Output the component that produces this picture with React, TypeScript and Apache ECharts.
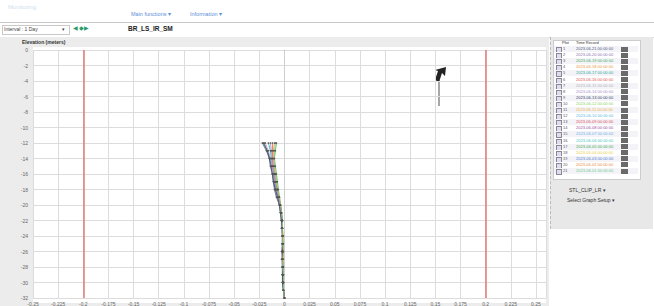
import React, { useEffect, useRef } from "react";
import * as echarts from "echarts";

const elevations = [-12, -13, -14, -15, -16, -17, -18, -19, -20, -21, -22, -23, -24, -25, -26, -27, -28, -29, -30, -31, -32];

const readingA = [-0.022, -0.018, -0.015, -0.013, -0.012, -0.011, -0.010, -0.008, -0.005, -0.004, -0.003, -0.003, -0.002, -0.002, -0.002, -0.002, -0.002, -0.002, -0.002, -0.001, 0];
const readingB = [-0.020, -0.017, -0.014, -0.013, -0.011, -0.010, -0.009, -0.007, -0.005, -0.003, -0.003, -0.002, -0.002, -0.002, -0.003, -0.002, -0.002, -0.002, -0.001, -0.001, 0];
const readingC = [-0.008, -0.009, -0.010, -0.009, -0.008, -0.007, -0.006, -0.005, -0.004, -0.003, -0.002, -0.002, -0.002, -0.001, -0.002, -0.002, -0.001, -0.002, -0.001, -0.001, 0];
const readingD = [-0.010, -0.011, -0.011, -0.010, -0.009, -0.008, -0.007, -0.005, -0.004, -0.003, -0.002, -0.002, -0.001, -0.002, -0.002, -0.001, -0.002, -0.001, -0.001, -0.001, 0];
const readingE = [-0.016, -0.014, -0.013, -0.012, -0.011, -0.010, -0.008, -0.006, -0.004, -0.003, -0.002, -0.002, -0.002, -0.002, -0.002, -0.002, -0.002, -0.001, -0.002, -0.001, 0];
const readingF = [-0.012, -0.012, -0.012, -0.011, -0.010, -0.009, -0.007, -0.006, -0.004, -0.003, -0.003, -0.002, -0.002, -0.002, -0.001, -0.002, -0.002, -0.002, -0.001, -0.001, 0];
const readingG = [-0.019, -0.016, -0.014, -0.012, -0.012, -0.010, -0.009, -0.007, -0.005, -0.004, -0.003, -0.003, -0.002, -0.002, -0.002, -0.003, -0.002, -0.002, -0.002, -0.001, 0];
const readingH = [-0.014, -0.013, -0.012, -0.012, -0.010, -0.009, -0.008, -0.006, -0.004, -0.003, -0.002, -0.002, -0.002, -0.002, -0.002, -0.002, -0.001, -0.002, -0.001, -0.001, 0];
const readingI = [-0.021, -0.017, -0.015, -0.014, -0.012, -0.011, -0.009, -0.007, -0.005, -0.004, -0.003, -0.002, -0.002, -0.002, -0.002, -0.002, -0.002, -0.002, -0.002, -0.001, 0];
const readingJ = [-0.009, -0.010, -0.010, -0.010, -0.009, -0.008, -0.007, -0.005, -0.004, -0.003, -0.002, -0.002, -0.002, -0.002, -0.001, -0.002, -0.002, -0.001, -0.001, -0.001, 0];

const plottedReadings = [readingA, readingB, readingC, readingD, readingE, readingF, readingG, readingH, readingI, readingJ];

const recordDates = [
  "2023-06-21 00:00:00", "2023-06-20 00:00:00", "2023-06-19 00:00:00", "2023-06-18 00:00:00",
  "2023-06-17 00:00:00", "2023-06-16 00:00:00", "2023-06-15 00:00:00", "2023-06-14 00:00:00",
  "2023-06-13 00:00:00", "2023-06-12 00:00:00", "2023-06-11 00:00:00", "2023-06-10 00:00:00",
  "2023-06-09 00:00:00", "2023-06-08 00:00:00", "2023-06-07 00:00:00", "2023-06-06 00:00:00",
  "2023-06-05 00:00:00", "2023-06-04 00:00:00", "2023-06-03 00:00:00", "2023-06-02 00:00:00",
  "2023-06-01 00:00:00",
];

const recordColors = [
  "#4a5a7a", "#8a6fb0", "#3aa860", "#e8963a", "#2aa89a", "#e0504a", "#b0b0b8",
  "#a88ad0", "#34406a", "#8ed06a", "#e8b040", "#5ab8e0", "#d84a5a", "#9a4aa0",
  "#70b0e8", "#40c8c0", "#40a850", "#e8d040", "#4a7ad0", "#e88a40", "#6ac890",
];

const thresholds = [-0.2, 0.2];

function fmt(v: number) {
  return String(parseFloat(v.toFixed(3)));
}

export default function App() {
  const ref = useRef<HTMLDivElement>(null);
  useEffect(() => {
    document.body.style.margin = "0";
    const chart = echarts.init(ref.current!, undefined, { renderer: "svg" });
    const series: any[] = plottedReadings.map((arr, i) => ({
      type: "line",
      name: recordDates[i],
      data: arr.map((v, j) => [v, elevations[j]]),
      symbol: "circle",
      symbolSize: 1.5,
      lineStyle: { width: 0.8, color: recordColors[i] },
      itemStyle: { color: "#555" },
      z: 3,
    }));
    series.push({
      type: "line",
      data: [],
      markLine: {
        silent: true,
        symbol: "none",
        label: { show: false },
        lineStyle: { color: "#e07a7a", width: 1.5, type: "solid" },
        data: thresholds.map((t) => ({ xAxis: t })),
      },
    });
    chart.setOption({
      animation: false,
      grid: { left: 33, top: 50, width: 513, height: 249, containLabel: false },
      xAxis: {
        type: "value",
        min: -0.25,
        max: 0.26,
        interval: 0.025,
        axisLine: { show: false },
        axisTick: { show: false },
        axisLabel: {
          fontSize: 5,
          color: "#666",
          margin: 3,
          showMaxLabel: false,
          formatter: (v: number) => fmt(v),
        },
        splitLine: { show: true, lineStyle: { color: "#dcdcdc", width: 1 } },
      },
      yAxis: {
        type: "value",
        min: -32,
        max: 0,
        interval: 2,
        axisLine: { show: true, lineStyle: { color: "#cfcfcf" } },
        axisTick: { show: false },
        axisLabel: { fontSize: 5, color: "#666", margin: 5 },
        splitLine: { show: true, lineStyle: { color: "#dcdcdc", width: 1 } },
      },
      graphic: [
        { type: "line", shape: { x1: 439, y1: 80, x2: 439, y2: 106 }, style: { stroke: "#8a8a8a", lineWidth: 1.5 } },
        {
          type: "polygon",
          shape: { points: [[446, 67], [445, 76], [442, 73], [439, 82], [435, 80], [438, 71], [435, 70]] },
          style: { fill: "#222" },
        },
      ],
      series,
    });
    return () => chart.dispose();
  }, []);

  const font = "Arial, 'Liberation Sans', sans-serif";
  return (
    <div style={{ position: "relative", width: 654, height: 306, overflow: "hidden", background: "#fff", fontFamily: font }}>
      <div style={{ position: "absolute", left: 8, top: 4, fontSize: 6, color: "#cfe0f0" }}>Monitoring</div>
      <div style={{ position: "absolute", left: 131, top: 11, fontSize: 5.5, color: "#5b8ed8" }}>Main functions ▾</div>
      <div style={{ position: "absolute", left: 190, top: 11, fontSize: 5.5, color: "#5b8ed8" }}>Information ▾</div>
      <div style={{ position: "absolute", left: 0, top: 22, width: 654, height: 14, background: "#fff", borderTop: "1px solid #c8c8c8", borderBottom: "1px solid #d8d8d8" }} />
      <div style={{ position: "absolute", left: 2, top: 25, width: 66, height: 8, border: "1px solid #c8c8c8", background: "#fff" }} />
      <div style={{ position: "absolute", left: 4, top: 26, fontSize: 5, color: "#444" }}>Interval : 1 Day</div>
      <div style={{ position: "absolute", left: 62, top: 26, fontSize: 5, color: "#444" }}>▾</div>
      <div style={{ position: "absolute", left: 73, top: 24, fontSize: 6, color: "#2a9a6a", letterSpacing: 0.5 }}>◀◆▶</div>
      <div style={{ position: "absolute", left: 128, top: 25, fontSize: 6.5, fontWeight: "bold", color: "#222" }}>BR_LS_IR_SM</div>
      <div style={{ position: "absolute", left: 0, top: 37, width: 549, height: 269, background: "#ececec" }} />
      <div style={{ position: "absolute", left: 22, top: 39, fontSize: 5, fontWeight: "bold", color: "#333" }}>Elevation (meters)</div>
      <div style={{ position: "absolute", left: 33, top: 47, width: 513, height: 256, background: "#fff" }} />
      <div ref={ref} style={{ position: "absolute", left: 0, top: 0, width: 549, height: 306 }} />
      <div style={{ position: "absolute", left: 550, top: 37, width: 102, height: 192, background: "#e8e8e8", borderLeft: "1px dashed #bbb" }} />
      <div style={{ position: "absolute", left: 553, top: 40, width: 86, height: 138, background: "#fff", border: "1px solid #ccc" }} />
      <div style={{ position: "absolute", left: 562, top: 40, fontSize: 4, color: "#333" }}>Plot</div>
      <div style={{ position: "absolute", left: 576, top: 40, fontSize: 4, color: "#333" }}>Time Record</div>
      {recordDates.map((d, i) => (
        <React.Fragment key={i}>
          <div style={{ position: "absolute", left: 554, top: 46 + i * 6.1, width: 84, height: 6, background: i % 2 === 0 ? "#f4f4f8" : "#fff" }} />
          <div style={{ position: "absolute", left: 556, top: 47 + i * 6.1, width: 4, height: 4, border: "0.5px solid #889", background: "#dde" }} />
          <div style={{ position: "absolute", left: 563, top: 46 + i * 6.1, fontSize: 4, color: "#555" }}>{i + 1}</div>
          <div style={{ position: "absolute", left: 576, top: 46 + i * 6.1, fontSize: 4, color: recordColors[i] }}>{d}</div>
          <div style={{ position: "absolute", left: 621, top: 46.5 + i * 6.1, width: 7, height: 5, background: "#6a6a6a" }} />
        </React.Fragment>
      ))}
      <div style={{ position: "absolute", left: 569, top: 187, fontSize: 5, color: "#333" }}>STL_CLIP_LR ▾</div>
      <div style={{ position: "absolute", left: 567, top: 197, fontSize: 5, color: "#333" }}>Select Graph Setup ▾</div>
    </div>
  );
}
